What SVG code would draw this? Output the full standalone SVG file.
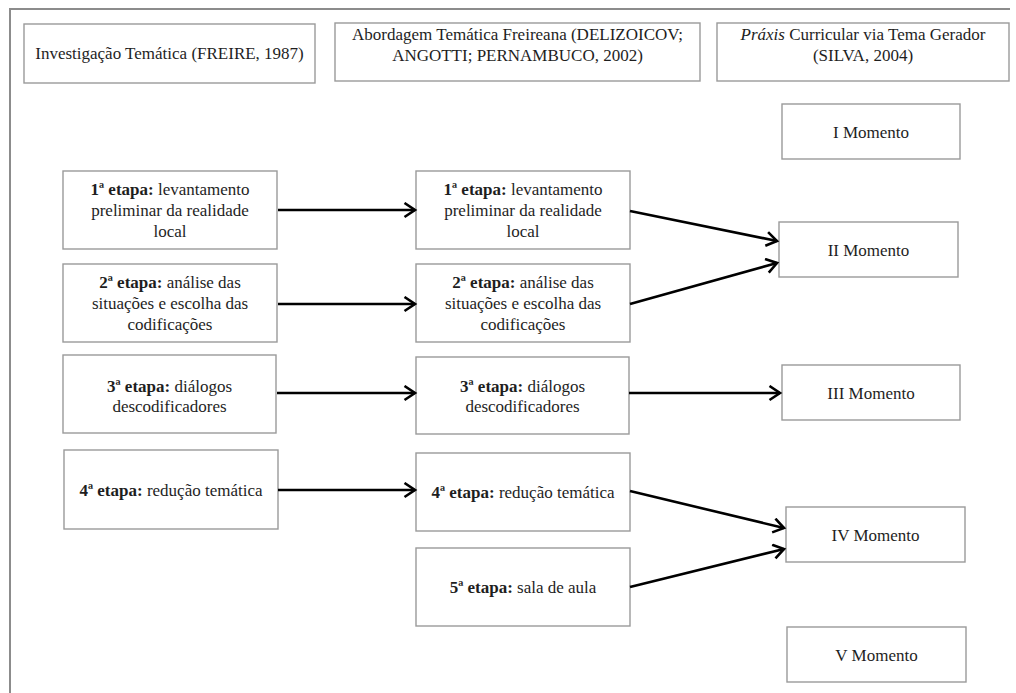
<svg xmlns="http://www.w3.org/2000/svg" width="1016" height="693" viewBox="0 0 1016 693">
  <style>
    .box { fill: #ffffff; stroke: #9a9a9a; stroke-width: 1.4; }
    .frame { fill: none; stroke: #8c8c8c; stroke-width: 2; }
    text { font-family: "Liberation Serif", "Times New Roman", serif; font-size: 17px; fill: #1e1e1e; text-anchor: middle; }
    .b { font-weight: bold; }
    .i { font-style: italic; }
    .conn { stroke: #000000; stroke-width: 2.6; fill: none; marker-end: url(#arrow); }
  </style>
  <defs>
    <marker id="arrow" markerUnits="userSpaceOnUse" markerWidth="16" markerHeight="18" refX="12" refY="8" orient="auto">
      <path d="M1.5,1 L12,8 L1.5,15" fill="none" stroke="#000000" stroke-width="2.6" stroke-linejoin="miter"/>
    </marker>
  </defs>

  <rect width="1016" height="693" fill="#ffffff"/>
  <path class="frame" d="M10,693 V9 H1010"/>

  <!-- column headers -->
  <g id="h-freire">
    <rect class="box" x="24" y="24" width="291" height="59"/>
    <text x="169.5" y="59">Investigação Temática (FREIRE, 1987)</text>
  </g>
  <g id="h-delizoicov">
    <rect class="box" x="335" y="23" width="365" height="58"/>
    <text x="517.5" y="40">Abordagem Temática Freireana (DELIZOICOV;</text>
    <text x="517.5" y="61">ANGOTTI; PERNAMBUCO, 2002)</text>
  </g>
  <g id="h-silva">
    <rect class="box" x="717" y="23" width="292" height="58"/>
    <text x="863" y="40"><tspan class="i">Práxis</tspan> Curricular via Tema Gerador</text>
    <text x="863" y="61">(SILVA, 2004)</text>
  </g>

  <!-- Investigação Temática -->
  <g id="f1">
    <rect class="box" x="63" y="171" width="214" height="78"/>
    <text x="170" y="195"><tspan class="b">1ª etapa:</tspan> levantamento</text>
    <text x="170" y="216">preliminar da realidade</text>
    <text x="170" y="237">local</text>
  </g>
  <g id="f2">
    <rect class="box" x="63" y="264" width="214" height="78"/>
    <text x="170" y="288"><tspan class="b">2ª etapa:</tspan> análise das</text>
    <text x="170" y="309">situações e escolha das</text>
    <text x="170" y="330">codificações</text>
  </g>
  <g id="f3">
    <rect class="box" x="63" y="355" width="213" height="78"/>
    <text x="169.5" y="392"><tspan class="b">3ª etapa:</tspan> diálogos</text>
    <text x="169.5" y="412">descodificadores</text>
  </g>
  <g id="f4">
    <rect class="box" x="64" y="450" width="214" height="79"/>
    <text x="171" y="496"><tspan class="b">4ª etapa:</tspan> redução temática</text>
  </g>

  <!-- Abordagem Temática Freireana -->
  <g id="d1">
    <rect class="box" x="416" y="171" width="214" height="78"/>
    <text x="523" y="195"><tspan class="b">1ª etapa:</tspan> levantamento</text>
    <text x="523" y="216">preliminar da realidade</text>
    <text x="523" y="237">local</text>
  </g>
  <g id="d2">
    <rect class="box" x="416" y="264" width="214" height="78"/>
    <text x="523" y="288"><tspan class="b">2ª etapa:</tspan> análise das</text>
    <text x="523" y="309">situações e escolha das</text>
    <text x="523" y="330">codificações</text>
  </g>
  <g id="d3">
    <rect class="box" x="416" y="357" width="213" height="77"/>
    <text x="522.5" y="392"><tspan class="b">3ª etapa:</tspan> diálogos</text>
    <text x="522.5" y="412">descodificadores</text>
  </g>
  <g id="d4">
    <rect class="box" x="416" y="453" width="214" height="78"/>
    <text x="523" y="498"><tspan class="b">4ª etapa:</tspan> redução temática</text>
  </g>
  <g id="d5">
    <rect class="box" x="416" y="548" width="214" height="78"/>
    <text x="523" y="593"><tspan class="b">5ª etapa:</tspan> sala de aula</text>
  </g>

  <!-- Práxis Curricular: momentos -->
  <g id="m1">
    <rect class="box" x="782" y="104" width="178" height="55"/>
    <text x="871" y="137.5">I Momento</text>
  </g>
  <g id="m2">
    <rect class="box" x="779" y="222" width="179" height="55"/>
    <text x="868.5" y="255.5">II Momento</text>
  </g>
  <g id="m3">
    <rect class="box" x="782" y="365" width="178" height="55"/>
    <text x="871" y="398.5">III Momento</text>
  </g>
  <g id="m4">
    <rect class="box" x="786" y="507" width="179" height="55"/>
    <text x="875.5" y="540.5">IV Momento</text>
  </g>
  <g id="m5">
    <rect class="box" x="787" y="627" width="179" height="55"/>
    <text x="876.5" y="660.5">V Momento</text>
  </g>

  <!-- connectors -->
  <g id="connectors">
    <line class="conn" x1="278" y1="210" x2="415" y2="210"/>
    <line class="conn" x1="278" y1="304" x2="415" y2="304"/>
    <line class="conn" x1="277" y1="393" x2="415" y2="393"/>
    <line class="conn" x1="278" y1="490" x2="415" y2="490"/>
    <line class="conn" x1="630" y1="211" x2="777" y2="241"/>
    <line class="conn" x1="630" y1="304" x2="777" y2="263"/>
    <line class="conn" x1="629" y1="393" x2="780" y2="393"/>
    <line class="conn" x1="630" y1="491" x2="784" y2="528"/>
    <line class="conn" x1="630" y1="587" x2="784" y2="549"/>
  </g>
</svg>
